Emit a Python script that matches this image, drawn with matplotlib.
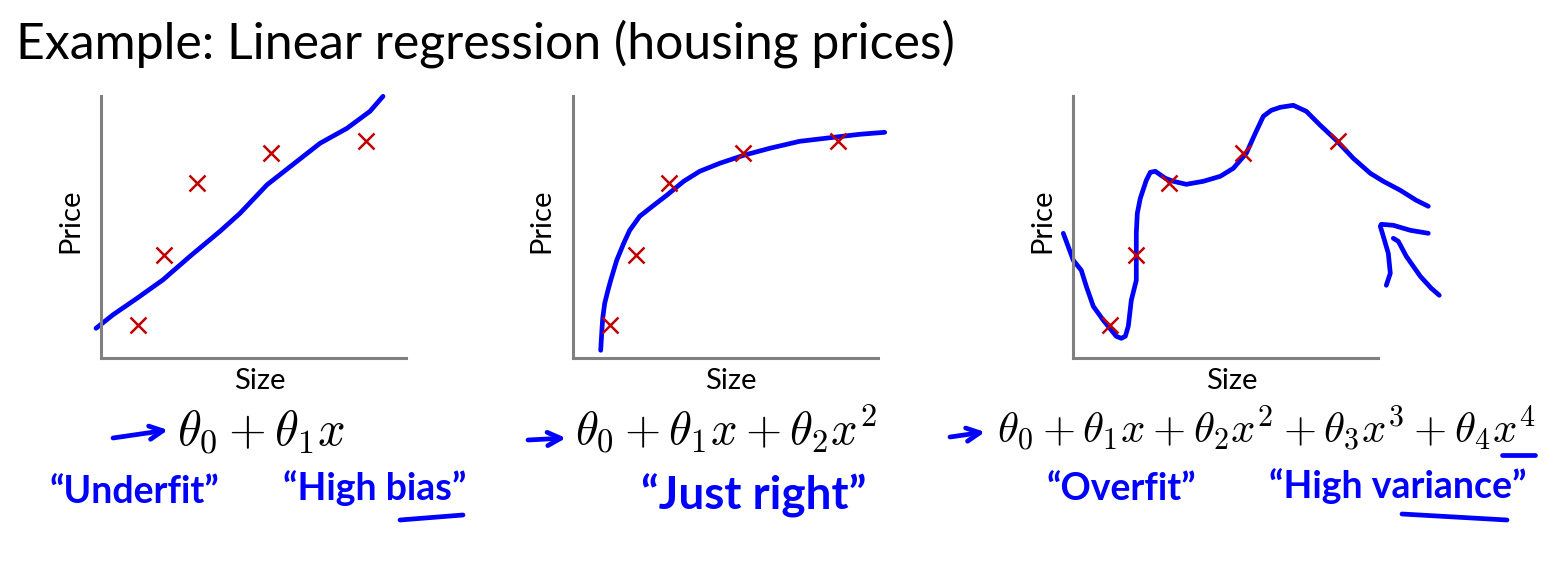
import matplotlib
matplotlib.use("Agg")
import matplotlib.pyplot as plt
from matplotlib.lines import Line2D

plt.rcParams['mathtext.fontset'] = 'cm'

W, H = 1553, 561

# ---- data ----
size_pts = [37, 63, 96, 170, 265]
price_pts = [33, 103, 175, 205, 217]

fit1_x = [-5, 12, 36, 62, 89, 119, 139, 166, 196, 219, 246, 269, 282]
fit1_y = [30, 43.5, 60, 78.5, 102, 127, 145, 173.5, 197, 215, 230, 247, 262]

fit2_x = [28, 29, 30, 32, 35, 38, 44, 51, 57, 67, 81, 94, 111, 127, 147, 171, 197, 227, 261, 287, 312]
fit2_y = [8, 25, 40, 55, 67, 78, 98, 115, 128, 142, 153, 163, 177, 187, 195, 203, 210, 217, 221, 224, 226]

fit4_x = [-10, 0, 8, 13, 20, 30, 43, 48, 52, 55, 58, 63, 63, 64, 67, 73, 77, 82, 92, 100, 113, 130, 147,
          160, 173, 182, 190, 198, 207, 220, 233, 247, 263, 280, 297, 310, 327, 343, 355]
fit4_y = [125, 98, 88, 72, 52, 38, 22, 20, 22, 32, 58, 78, 125, 145, 160, 178, 186, 187, 180, 177, 174, 177, 182,
          190, 205, 225, 242, 248, 251, 253, 247, 233, 218, 200, 185, 177, 168, 158, 152]

arrow_a_x = [313, 317, 315, 310, 307, 308, 320, 337, 355]
arrow_a_y = [73, 85, 105, 122, 132, 134, 133, 128, 125]
arrow_b_x = [320, 325, 333, 347, 358, 366]
arrow_b_y = [120, 117, 102, 82, 70, 63]

title = "Example: Linear regression (housing prices)"
formulas = [r"$\theta_0 + \theta_1 x$",
            r"$\theta_0 + \theta_1 x + \theta_2 x^2$",
            r"$\theta_0 + \theta_1 x + \theta_2 x^2 + \theta_3 x^3 + \theta_4 x^4$"]
xlabel = "Size"
ylabel = "Price"
notes = ["\u201cUnderfit\u201d", "\u201cHigh bias\u201d", "\u201cJust right\u201d",
         "\u201cOverfit\u201d", "\u201cHigh variance\u201d"]

BLUE = "#0000FF"
RED = "#C00000"
GRAY = "#808080"

fig = plt.figure(figsize=(W / 100, H / 100), dpi=100)
renderer = fig.canvas.get_renderer()

ax_left_px = [101, 572.7, 1073.3]
ax_w_px, ax_h_px = 305, 262
ax_bottom_px = 358.3

axes = []
for lp in ax_left_px:
    ax = fig.add_axes([lp / W, (H - ax_bottom_px) / H, ax_w_px / W, ax_h_px / H])
    ax.set_xlim(0, 305)
    ax.set_ylim(0, 262)
    for s in ['top', 'right']:
        ax.spines[s].set_visible(False)
    for s in ['left', 'bottom']:
        ax.spines[s].set_color(GRAY)
        ax.spines[s].set_linewidth(2.2)
    ax.set_xticks([])
    ax.set_yticks([])
    ax.patch.set_alpha(0)
    axes.append(ax)

line_kw = dict(color=BLUE, lw=3.4, solid_capstyle='round', solid_joinstyle='round', clip_on=False)
axes[0].plot(fit1_x, fit1_y, **line_kw)
axes[1].plot(fit2_x, fit2_y, **line_kw)
axes[2].plot(fit4_x, fit4_y, **line_kw)
axes[2].plot(arrow_a_x, arrow_a_y, **line_kw)
axes[2].plot(arrow_b_x, arrow_b_y, **line_kw)

for ax in axes:
    ax.plot(size_pts, price_pts, linestyle='none', marker='x', markersize=11,
            markeredgewidth=1.8, color=RED, clip_on=False, zorder=5)


def px(x, y):
    return x / W, 1 - y / H


def fit_text(x0, x1, y, s, **kw):
    t = fig.text(*px(x0, y), s, ha='left', va='baseline', **kw)
    bb = t.get_window_extent(renderer)
    t.set_fontsize(t.get_fontsize() * (x1 - x0) / bb.width)
    return t


# title
fit_text(16, 955, 59, title, family='Lato', fontsize=32, color='black')

# axis labels
for lp in ax_left_px:
    fig.text(*px(lp - 31, 221), ylabel, rotation=90, ha='center', va='center',
             family='Lato', fontsize=21, color='black')
    fig.text(*px(lp + ax_w_px / 2 + 6, 381), xlabel, ha='center', va='center',
             family='Lato', fontsize=21, color='black')

# formulas
formula_span = [(177, 345), (575, 877), (997, 1535)]
for (x0, x1), f in zip(formula_span, formulas):
    fit_text(x0, x1, 444, f, fontsize=36, color='black')

# hand-drawn arrows before formulas
arrows = [((113, 438), (168, 430)), ((528, 440), (566, 438)), ((950, 437), (985, 432))]
for (x0, y0), (x1, y1) in arrows:
    axes[0].annotate('', xy=(x1, H - y1), xytext=(x0, H - y0), xycoords='figure pixels',
                     textcoords='figure pixels', annotation_clip=False,
                     arrowprops=dict(arrowstyle='->', color=BLUE, lw=3.4,
                                     mutation_scale=24, shrinkA=0, shrinkB=0))

# hand-written comments (centre x, baseline y, size)
note_pos = [(134, 503, 27), (375, 500, 27), (754, 510, 33), (1121, 500, 27), (1398, 498, 27)]
for s, (cx, by, fs) in zip(notes, note_pos):
    fig.text(*px(cx, by), s, ha='center', va='baseline', family='Lato',
             fontweight='bold', fontsize=fs, color=BLUE)

underlines = [((400, 520), (463, 515)), ((1402, 514), (1507, 520)), ((1502, 455), (1535, 455))]
for (x0, y0), (x1, y1) in underlines:
    fig.add_artist(Line2D([x0 / W, x1 / W], [1 - y0 / H, 1 - y1 / H], color=BLUE, lw=3.4,
                          solid_capstyle='round'))

fig.savefig("out.png", dpi=100, facecolor='white')
